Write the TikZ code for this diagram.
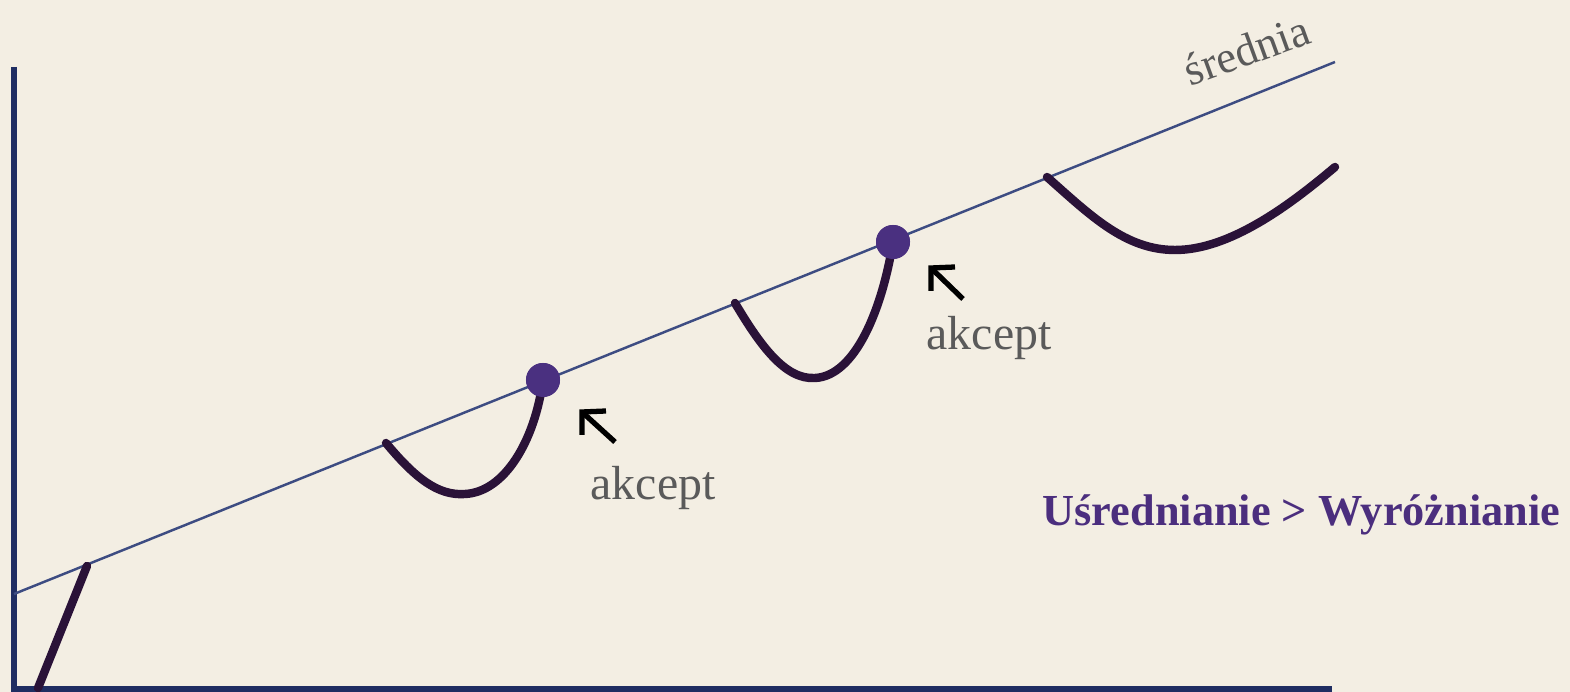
\documentclass[tikz,border=0pt]{standalone}
\usepackage{fontspec}
\setmainfont{Liberation Serif}
\definecolor{bg}{HTML}{F3EEE3}
\definecolor{axiscol}{HTML}{1F2D62}
\definecolor{meancol}{HTML}{3D4C82}
\definecolor{curvecol}{HTML}{2A1238}
\definecolor{dotcol}{HTML}{4A3080}
\definecolor{txtgray}{HTML}{5A5A5A}
\definecolor{purpletxt}{HTML}{4B2E7E}
\begin{document}
\begin{tikzpicture}[x=0.01cm,y=-0.01cm,
  axisline/.style={draw=axiscol,line width=1.45pt},
  meanline/.style={draw=meancol,line width=0.7pt},
  pathcurve/.style={draw=curvecol,line width=2.4pt,line cap=round},
  acceptdot/.style={circle,fill=dotcol,minimum size=0.34cm,inner sep=0pt},
  pointer/.style={draw=black,line width=1.5pt,miter limit=10},
  graylabel/.style={text=txtgray,inner sep=0pt,font=\fontsize{13.6}{16}\selectfont},
  purplelabel/.style={text=purpletxt,inner sep=0pt,font=\fontsize{12.6}{15}\selectfont\bfseries}]
\fill[bg] (0,0) rectangle (1570,692);
\useasboundingbox (0,0) rectangle (1570,692);
% axes
\coordinate (ytop) at (14,67);
\coordinate (origin) at (14,689);
\coordinate (xend) at (1332,689);
\draw[axisline] (ytop) -- (14,692);
\draw[axisline] (14,689) -- (xend);
% mean line
\coordinate (mstart) at (14,594);
\coordinate (mend) at (1335,62);
\draw[meanline] (mstart) -- (mend);
\node[graylabel,anchor=base west,rotate=20,font=\fontsize{12.8}{15}\selectfont] (sred) at (1190,87) {średnia};
% segment 1
\coordinate (s1a) at (38,688);
\coordinate (s1b) at (87,566);
\draw[pathcurve] (s1a) -- (s1b);
% curve 2
\coordinate (c2a) at (386,443);
\coordinate (c2m) at (465,494);
\node[acceptdot] (d1) at (543,380) {};
\draw[pathcurve] (c2a) .. controls (415,478) and (438,496) .. (c2m)
  .. controls (505,492) and (535,440) .. (d1.center);
% curve 3
\coordinate (c3a) at (735,303);
\coordinate (c3m) at (815,378);
\node[acceptdot] (d2) at (893,242) {};
\draw[pathcurve] (c3a) .. controls (760,345) and (785,380) .. (c3m)
  .. controls (855,376) and (882,310) .. (d2.center);
\node[acceptdot] at (d1) {};
\node[acceptdot] at (d2) {};
% curve 4
\coordinate (c4a) at (1047,177);
\coordinate (c4m) at (1175,250);
\coordinate (c4b) at (1335,167);
\draw[pathcurve] (c4a) .. controls (1090,215) and (1125,250) .. (c4m)
  .. controls (1230,250) and (1290,205) .. (c4b);
% pointers
\coordinate (p1tip) at (582,412);
\coordinate (p1tail) at (615,442);
\draw[pointer] (582,435) -- (p1tip) -- (606,411);
\draw[pointer] (p1tip) -- (p1tail);
\coordinate (p2tip) at (931,268);
\coordinate (p2tail) at (963,299);
\draw[pointer] (931,291) -- (p2tip) -- (955,267);
\draw[pointer] (p2tip) -- (p2tail);
% labels
\node[graylabel,anchor=base west] (acc1) at (590,500) {akcept};
\node[graylabel,anchor=base west] (acc2) at (926,350) {akcept};
\node[purplelabel,anchor=base west] (title) at (1042,526) {Uśrednianie > Wyróżnianie};
\end{tikzpicture}
\end{document}
